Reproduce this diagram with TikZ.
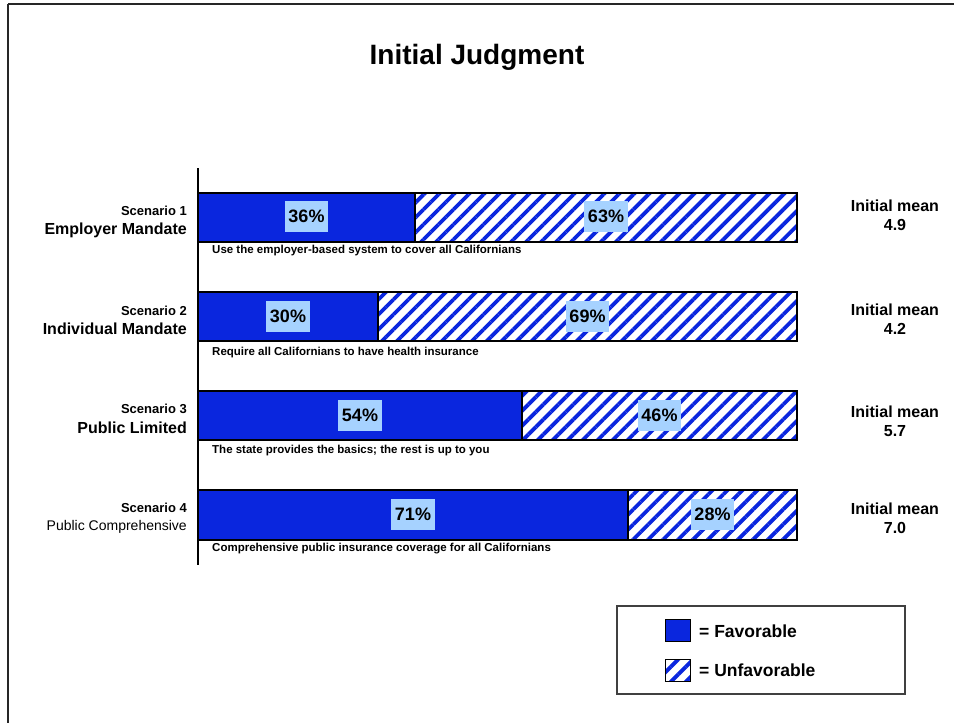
\documentclass[tikz,border=0pt]{standalone}
\usepackage{fontspec}
\setmainfont{Liberation Sans}
\usetikzlibrary{patterns.meta}
\definecolor{barblue}{RGB}{10,38,222}
\definecolor{boxblue}{RGB}{166,210,255}

\begin{document}
\begin{tikzpicture}[x=1pt,y=-1pt,
    title/.style={font=\fontsize{28}{32}\selectfont\bfseries},
    scen/.style={anchor=east,inner sep=0pt,font=\fontsize{13}{15}\selectfont\bfseries},
    sname/.style={anchor=east,inner sep=0pt,font=\fontsize{16}{18}\selectfont\bfseries},
    desc/.style={anchor=west,inner sep=0pt,font=\fontsize{11.5}{13}\selectfont\bfseries},
    pct/.style={fill=boxblue,inner xsep=3.5pt,inner ysep=0pt,minimum height=31pt,
      font=\fontsize{18}{20}\selectfont\bfseries},
    mean/.style={align=center,inner sep=0pt,font=\fontsize{16}{19}\selectfont\bfseries},
    legtext/.style={anchor=west,inner sep=0pt,font=\fontsize{17.5}{20}\selectfont\bfseries},
    fav/.style={fill=barblue,draw=black,line width=1.5pt},
    unfav/.style={pattern={Lines[angle=45,distance=10.6pt,line width=3.8pt]},
      pattern color=barblue,draw=black,line width=1.5pt}]
    \useasboundingbox (0,0) rectangle (954,723);
    \draw[line width=2.5pt,draw=black!85] (8,4) -- (960,4) (8,4) -- (8,730);
    \node[title] (T) at (477,57) {Initial Judgment};
    \draw[line width=1.5pt] (198,168) -- (198,565);
    % scenario 1
    \fill[white] (415,193) rectangle (797,242);
    \draw[unfav] (415,193) rectangle (797,242);
    \draw[fav] (198,193) rectangle (415,242);
    \node[pct] (f1) at (306.5,216.5) {36\%};
    \node[pct] (u1) at (606,216.5) {63\%};
    \node[scen] (s1) at (187,211) {Scenario 1};
    \node[sname] (n1) at (187,230) {Employer Mandate};
    \node[desc] (d1) at (212,251) {Use the employer-based system to cover all Californians};
    \node[mean] (m1) at (895,215.5) {Initial mean\\4.9};
    % scenario 2
    \fill[white] (378,292) rectangle (797,341);
    \draw[unfav] (378,292) rectangle (797,341);
    \draw[fav] (198,292) rectangle (378,341);
    \node[pct] (f2) at (288,316) {30\%};
    \node[pct] (u2) at (587.5,316) {69\%};
    \node[scen] (s2) at (187,311) {Scenario 2};
    \node[sname] (n2) at (187,329) {Individual Mandate};
    \node[desc] (d2) at (212,353) {Require all Californians to have health insurance};
    \node[mean] (m2) at (895,319) {Initial mean\\4.2};
    % scenario 3
    \fill[white] (522,391) rectangle (797,440);
    \draw[unfav] (522,391) rectangle (797,440);
    \draw[fav] (198,391) rectangle (522,440);
    \node[pct] (f3) at (360,415) {54\%};
    \node[pct] (u3) at (659.5,415) {46\%};
    \node[scen] (s3) at (187,409) {Scenario 3};
    \node[sname] (n3) at (187,428) {Public Limited};
    \node[desc] (d3) at (212,451) {The state provides the basics; the rest is up to you};
    \node[mean] (m3) at (895,421.5) {Initial mean\\5.7};
    % scenario 4
    \fill[white] (628,490) rectangle (797,540);
    \draw[unfav] (628,490) rectangle (797,540);
    \draw[fav] (198,490) rectangle (628,540);
    \node[pct] (f4) at (413,514.5) {71\%};
    \node[pct] (u4) at (712.5,514.5) {28\%};
    \node[scen] (s4) at (187,508) {Scenario 4};
    \node[anchor=east,inner sep=0pt,font=\fontsize{14}{16}\selectfont] (n4) at (187,527) {Public Comprehensive};
    \node[desc] (d4) at (212,549) {Comprehensive public insurance coverage for all Californians};
    \node[mean] (m4) at (895,518) {Initial mean\\7.0};
    % legend
    \draw[line width=2pt,draw=black!75] (617,606) rectangle (905,694);
    \draw[fav,line width=1pt] (665,619) rectangle (690,641);
    \draw[unfav,line width=1pt] (665,659) rectangle (690,681);
    \node[legtext] (lf) at (699,631) {= Favorable};
    \node[legtext] (lu) at (699,670) {= Unfavorable};
\end{tikzpicture}
\end{document}
